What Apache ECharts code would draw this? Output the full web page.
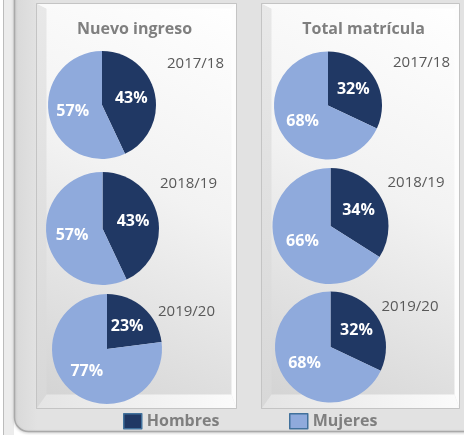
<!DOCTYPE html>
<html>
<head>
<meta charset="utf-8">
<script src="https://cdn.jsdelivr.net/npm/echarts@6/dist/echarts.min.js"></script>
<style>
  html, body { margin: 0; padding: 0; background: #ffffff; }
  #chart { width: 464px; height: 435px; }
</style>
</head>
<body>
<div id="chart"></div>
<script>
// datos
const years = ["2017/18", "2018/19", "2019/20"];
const groups = ["Hombres", "Mujeres"];
const nuevoHombres = [43, 43, 23];
const nuevoMujeres = [57, 57, 77];
const totalHombres = [32, 34, 32];
const totalMujeres = [68, 66, 68];

const colorHombres = "#203864";
const colorMujeres = "#8faadc";

// posiciones de las tartas (columna izquierda y derecha)
const leftPies = [
  { center: [102, 105], r: 54 },
  { center: [102.5, 228.5], r: 56.5 },
  { center: [107, 349], r: 55 },
];
const rightPies = [
  { center: [328, 105.5], r: 54 },
  { center: [330.5, 226], r: 58 },
  { center: [330.5, 347], r: 55.5 },
];
const leftYearPos = [[195.5, 63.5], [188.5, 183.5], [186.5, 311.5]];
const rightYearPos = [[421.5, 63], [416, 183], [410, 306.5]];

const font = "'Open Sans', 'Noto Sans', sans-serif";

function makePie(pos, hombres, mujeres) {
  return {
    type: "pie",
    center: pos.center,
    radius: pos.r,
    startAngle: 90,
    clockwise: true,
    silent: true,
    animation: false,
    label: {
      show: true,
      position: "inside",
      formatter: "{c}%",
      color: "#ffffff",
      fontFamily: font,
      fontWeight: "bold",
      fontSize: 16,
    },
    labelLine: { show: false },
    data: [
      { name: groups[0], value: hombres, itemStyle: { color: colorHombres } },
      { name: groups[1], value: mujeres, itemStyle: { color: colorMujeres } },
    ],
  };
}

// marco biselado de cada panel
function panel(x0, y0, x1, y1) {
  const bl = 10, bt = 5, bb = 14, br = 5;
  return [
    {
      type: "rect",
      shape: { x: x0, y: y0, width: x1 - x0, height: y1 - y0 },
      style: {
        fill: new echarts.graphic.LinearGradient(0, 1, 1, 0, [
          { offset: 0, color: "#d2d2d2" },
          { offset: 0.55, color: "#f2f2f2" },
          { offset: 1, color: "#ffffff" },
        ]),
        stroke: "#bdbdbd",
        lineWidth: 1,
      },
    },
    {
      type: "polygon",
      shape: { points: [[x0, y0], [x0 + bl, y0 + bt], [x0 + bl, y1 - bb], [x0, y1]] },
      style: {
        fill: new echarts.graphic.LinearGradient(0, 0, 0, 1, [
          { offset: 0, color: "#e8e8e8" },
          { offset: 1, color: "#d8d8d8" },
        ]),
      },
    },
    {
      type: "polygon",
      shape: { points: [[x0, y1], [x0 + bl, y1 - bb], [x1 - br, y1 - bb], [x1, y1]] },
      style: {
        fill: new echarts.graphic.LinearGradient(0, 0, 1, 0, [
          { offset: 0, color: "#e4e4e4" },
          { offset: 1, color: "#fbfbfb" },
        ]),
      },
    },
    {
      type: "polygon",
      shape: { points: [[x0, y0], [x1, y0], [x1 - br, y0 + bt], [x0 + bl, y0 + bt]] },
      style: { fill: "#fafafa" },
    },
    {
      type: "polygon",
      shape: { points: [[x1, y0], [x1, y1], [x1 - br, y1 - bb], [x1 - br, y0 + bt]] },
      style: { fill: "#fdfdfd" },
    },
    {
      type: "rect",
      shape: { x: x0, y: y0, width: x1 - x0, height: y1 - y0 },
      style: { fill: null, stroke: "#c4c4c4", lineWidth: 1 },
    },
  ];
}

const chart = echarts.init(document.getElementById("chart"), null, { renderer: "canvas" });

let series = [];
for (let i = 0; i < years.length; i++) {
  series.push(makePie(leftPies[i], nuevoHombres[i], nuevoMujeres[i]));
  series.push(makePie(rightPies[i], totalHombres[i], totalMujeres[i]));
}

const titleText = { color: "#7f7f7f", fontFamily: font, fontWeight: "bold", fontSize: 16 };
let titles = [
  { text: "Nuevo ingreso", left: 134.5, top: 29, textAlign: "center", textVerticalAlign: "middle", padding: 0, textStyle: titleText },
  { text: "Total matrícula", left: 363.5, top: 29, textAlign: "center", textVerticalAlign: "middle", padding: 0, textStyle: titleText },
];

let graphics = [
  // tira a la izquierda
  { type: "rect", shape: { x: 0, y: 0, width: 14, height: 435 }, style: { fill: "#ececec" } },
  { type: "line", shape: { x1: 3.5, y1: 0, x2: 3.5, y2: 435 }, style: { stroke: "#bcbcbc", lineWidth: 1 } },
  { type: "rect", shape: { x: 0, y: 0, width: 3, height: 435 }, style: { fill: "#ffffff" } },
  // marco exterior
  {
    type: "rect",
    shape: { x: 14.5, y: -20, width: 470, height: 451.5, r: [0, 0, 0, 14] },
    style: {
      fill: new echarts.graphic.LinearGradient(0, 0, 1, 0, [
        { offset: 0, color: "#d8d8d8" },
        { offset: 0.05, color: "#e2e2e2" },
        { offset: 1, color: "#e2e2e2" },
      ]),
      stroke: "#a9a9a9",
      lineWidth: 1.5,
      shadowColor: "rgba(0,0,0,0.15)",
      shadowBlur: 3,
      shadowOffsetY: 1,
    },
  },
  ...panel(36.5, 3.5, 236.5, 408.5),
  ...panel(261.5, 3.5, 459.5, 408.5),
];

// años junto a cada tarta
for (let i = 0; i < years.length; i++) {
  graphics.push({
    type: "text", x: leftYearPos[i][0], y: leftYearPos[i][1], z: 10,
    style: { text: years[i], fill: "#595959", font: "15px " + font, textAlign: "center", textVerticalAlign: "middle" },
  });
  graphics.push({
    type: "text", x: rightYearPos[i][0], y: rightYearPos[i][1], z: 10,
    style: { text: years[i], fill: "#595959", font: "15px " + font, textAlign: "center", textVerticalAlign: "middle" },
  });
}

const legendText = { color: "#7f7f7f", fontFamily: font, fontWeight: "bold", fontSize: 16 };

const option = {
  backgroundColor: "#ffffff",
  animation: false,
  title: titles,
  graphic: { elements: graphics },
  legend: [
    {
      data: [groups[0]], left: 123, top: 413, padding: 0, itemWidth: 18, itemHeight: 15, itemGap: 4,
      icon: "rect", selectedMode: false, textStyle: legendText,
      itemStyle: { borderColor: "#41719c", borderWidth: 1.5 },
    },
    {
      data: [groups[1]], left: 289, top: 413, padding: 0, itemWidth: 18, itemHeight: 15, itemGap: 4,
      icon: "rect", selectedMode: false, textStyle: legendText,
      itemStyle: { borderColor: "#41719c", borderWidth: 1.5 },
    },
  ],
  series: series,
};

chart.setOption(option);
</script>
</body>
</html>
